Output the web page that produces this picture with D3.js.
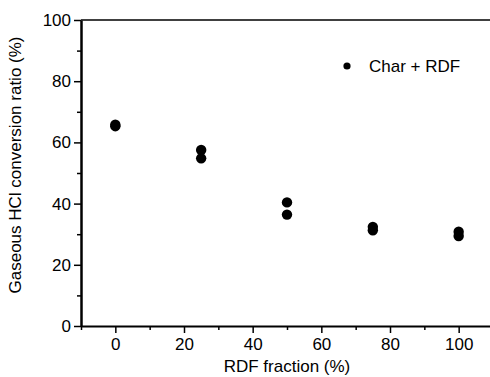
<!DOCTYPE html>
<html>
<head>
<meta charset="utf-8">
<script src="https://cdn.jsdelivr.net/npm/d3@7"></script>
<style>
  body { margin: 0; background: #fff; }
  svg { font-family: Arial, "Liberation Sans", sans-serif; }
</style>
</head>
<body>
<div id="chart"></div>
<script>
// RDF fraction (%) and measured HCl conversion ratio (%)
const rdfFraction = [0, 0, 25, 25, 50, 50, 75, 75, 100, 100];
const conversion = [65.8, 65.3, 57.5, 54.8, 40.4, 36.4, 32.4, 31.3, 30.8, 29.4];
const xTicks = [0, 20, 40, 60, 80, 100];
const yTicks = [0, 20, 40, 60, 80, 100];
const seriesName = "Char + RDF";

const width = 490, height = 377;
const marginLeft = 81, marginTop = 20, marginBottom = 51;
const fontSize = "17px";

const x = d3.scaleLinear().domain([-10, 110]).range([marginLeft, marginLeft + 412]);
const y = d3.scaleLinear().domain([0, 100]).range([height - marginBottom, marginTop]);

const svg = d3.create("svg")
    .attr("width", width)
    .attr("height", height)
    .attr("viewBox", [0, 0, width, height]);

// minor ticks
svg.append("g")
    .attr("transform", `translate(0,${y(0)})`)
    .call(d3.axisBottom(x).tickValues([-10, 10, 30, 50, 70, 90, 110]).tickSize(4).tickFormat(""))
    .call(g => g.select(".domain").remove())
    .call(g => g.selectAll(".tick line").attr("stroke-width", 1.5));

svg.append("g")
    .attr("transform", `translate(${marginLeft},0)`)
    .call(d3.axisLeft(y).tickValues([10, 30, 50, 70, 90]).tickSize(4).tickFormat(""))
    .call(g => g.select(".domain").remove())
    .call(g => g.selectAll(".tick line").attr("stroke-width", 1.5));

// x axis
svg.append("g")
    .attr("transform", `translate(0,${y(0)})`)
    .call(d3.axisBottom(x).tickValues(xTicks).tickSize(7).tickPadding(5).tickSizeOuter(0))
    .call(g => g.select(".domain").attr("stroke-width", 2))
    .call(g => g.selectAll(".tick line").attr("stroke-width", 1.5))
    .call(g => g.selectAll(".tick text").attr("fill", "#000").style("font-size", fontSize));

// y axis
svg.append("g")
    .attr("transform", `translate(${marginLeft},0)`)
    .call(d3.axisLeft(y).tickValues(yTicks).tickSize(7).tickPadding(3).tickSizeOuter(0))
    .call(g => g.select(".domain").attr("stroke-width", 2.5))
    .call(g => g.selectAll(".tick line").attr("stroke-width", 1.5))
    .call(g => g.selectAll(".tick text").attr("fill", "#000").style("font-size", fontSize));

// top line
svg.append("line")
    .attr("x1", marginLeft).attr("x2", width)
    .attr("y1", y(100)).attr("y2", y(100))
    .attr("stroke", "#000").attr("stroke-width", 1.5);

// points
svg.append("g")
  .selectAll("circle")
  .data(d3.zip(rdfFraction, conversion))
  .join("circle")
    .attr("cx", d => x(d[0]))
    .attr("cy", d => y(d[1]))
    .attr("r", 5.2)
    .attr("fill", "#000");

// legend
svg.append("circle").attr("cx", 347).attr("cy", 66).attr("r", 3.6).attr("fill", "#000");
svg.append("text")
    .attr("x", 369).attr("y", 72)
    .style("font-size", fontSize)
    .text(seriesName);

// axis titles
svg.append("text")
    .attr("x", x(50)).attr("y", 372)
    .attr("text-anchor", "middle")
    .style("font-size", fontSize)
    .text("RDF fraction (%)");

svg.append("text")
    .attr("transform", `translate(21,165) rotate(-90)`)
    .attr("text-anchor", "middle")
    .style("font-size", fontSize)
    .text("Gaseous HCl conversion ratio (%)");

document.getElementById("chart").appendChild(svg.node());
</script>
</body>
</html>
